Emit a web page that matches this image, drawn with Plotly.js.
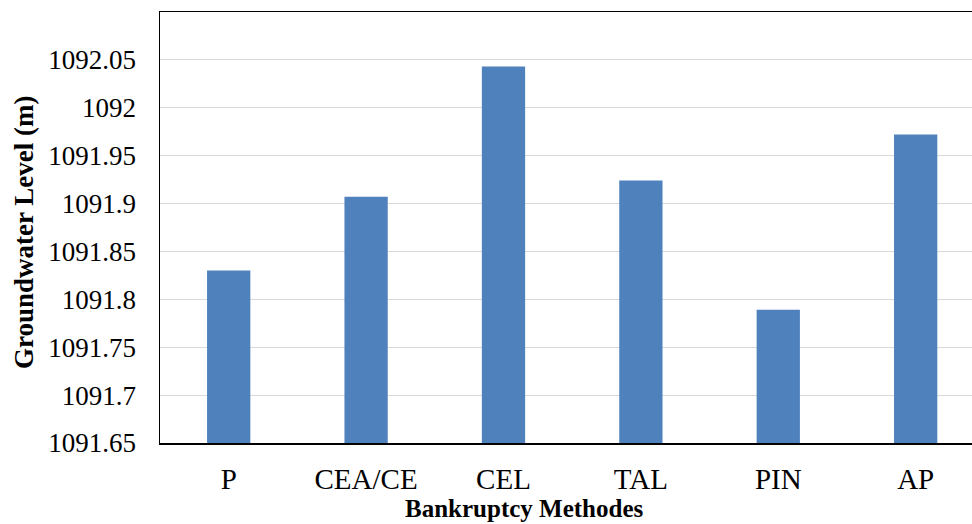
<!DOCTYPE html>
<html>
<head>
<meta charset="utf-8">
<script src="https://cdn.plot.ly/plotly-3.0.1.min.js"></script>
<style>html,body{margin:0;padding:0;background:#fff;}#chart{width:972px;height:524px;}</style>
</head>
<body>
<div id="chart"></div>
<script>
const categories = ["P", "CEA/CE", "CEL", "TAL", "PIN", "AP"];
const groundwaterLevel = [1091.830, 1091.907, 1092.043, 1091.924, 1091.789, 1091.972];
const yTickValues = [1091.65, 1091.7, 1091.75, 1091.8, 1091.85, 1091.9, 1091.95, 1092, 1092.05];
const yTickLabels = ["1091.65", "1091.7", "1091.75", "1091.8", "1091.85", "1091.9", "1091.95", "1092", "1092.05"];

const fontFam = 'Liberation Serif, Times New Roman, serif';

const trace = {
  type: 'bar',
  x: categories,
  y: groundwaterLevel,
  marker: {color: '#4F81BD'},
  hoverinfo: 'x+y'
};

const layout = {
  width: 972,
  height: 524,
  margin: {l: 160, r: 0, t: 12, b: 81},
  paper_bgcolor: '#ffffff',
  plot_bgcolor: '#ffffff',
  bargap: 0.685,
  showlegend: false,
  font: {family: fontFam, color: '#000000', size: 26},
  xaxis: {
    type: 'category',
    range: [-0.5, 5.41],
    showline: true,
    linecolor: '#000000',
    linewidth: 1.5,
    mirror: true,
    showgrid: false,
    ticks: 'outside',
    ticklen: 10,
    tickcolor: 'rgba(0,0,0,0)',
    tickfont: {family: fontFam, size: 29, color: '#000000'},
    fixedrange: true
  },
  yaxis: {
    range: [1091.65, 1092.1],
    tickvals: yTickValues,
    ticktext: yTickLabels,
    showline: true,
    linecolor: '#000000',
    linewidth: 1.5,
    showgrid: true,
    gridcolor: '#d9d9d9',
    gridwidth: 1,
    zeroline: false,
    ticks: 'outside',
    ticklen: 17,
    tickcolor: 'rgba(0,0,0,0)',
    tickfont: {family: fontFam, size: 27, color: '#000000'},
    fixedrange: true
  },
  annotations: [
    {
      text: '<b>Bankruptcy Methodes</b>',
      xref: 'paper', yref: 'paper',
      x: (524 - 160) / 812, y: (443 - 508) / 431,
      xanchor: 'center', yanchor: 'middle',
      showarrow: false,
      font: {family: fontFam, size: 25, color: '#000000'}
    },
    {
      text: '<b>Groundwater Level (m)</b>',
      xref: 'paper', yref: 'paper',
      x: (24 - 160) / 812, y: (443 - 233) / 431,
      xanchor: 'center', yanchor: 'middle',
      textangle: -90,
      showarrow: false,
      font: {family: fontFam, size: 27, color: '#000000'}
    }
  ]
};

Plotly.newPlot('chart', [trace], layout, {displayModeBar: false, staticPlot: true});
</script>
</body>
</html>
